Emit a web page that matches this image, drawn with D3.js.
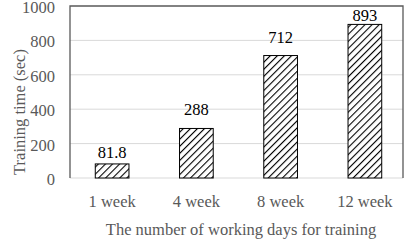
<!DOCTYPE html>
<html><head><meta charset="utf-8">
<script src="https://cdn.jsdelivr.net/npm/d3@7"></script>
<style>body{margin:0;background:#fff}svg{display:block;font-family:"Liberation Serif","Times New Roman",serif}</style>
</head><body>
<svg id="c" width="409" height="240"></svg>
<script>
const categories = ["1 week","4 week","8 week","12 week"];
const values = [81.8, 288, 712, 893];
const valueLabels = ["81.8","288","712","893"];
const yTicks = [0,200,400,600,800,1000];
const labelGap = [6, 13, 13, 3];

const svg = d3.select("#c");
const L = 70, R = 403, T = 6, B = 178;
const FS = 16.5;
const x = d3.scaleBand().domain(categories).range([70, 407]).paddingInner(0.6).paddingOuter(0.3);
const y = d3.scaleLinear().domain([0,1000]).range([B, T]);

const defs = svg.append("defs");
const pat = defs.append("pattern").attr("id","hatch").attr("patternUnits","userSpaceOnUse")
  .attr("width",5).attr("height",5).attr("patternTransform","rotate(45)");
pat.append("rect").attr("width",5).attr("height",5).attr("fill","#fff");
pat.append("line").attr("x1",0).attr("y1",0).attr("x2",0).attr("y2",5).attr("stroke","#000").attr("stroke-width",2.2);

// gridlines
svg.append("g").selectAll("line").data(yTicks.filter(d=>d>0 && d<1000)).join("line")
  .attr("x1",L).attr("x2",R).attr("y1",d=>y(d)).attr("y2",d=>y(d))
  .attr("stroke","#d9d9d9").attr("stroke-width",1);
// baseline
svg.append("line").attr("x1",L).attr("x2",R).attr("y1",y(0)).attr("y2",y(0)).attr("stroke","#d9d9d9");
// border (top, left, right)
svg.append("path").attr("d",`M${L},${B}V${T}H${R}V${B}`).attr("fill","none").attr("stroke","#595959").attr("stroke-width",1.3);

// bars
svg.append("g").selectAll("rect").data(values).join("rect")
  .attr("x",(d,i)=>x(categories[i])).attr("width",x.bandwidth())
  .attr("y",d=>y(d)).attr("height",d=>y(0)-y(d))
  .attr("fill","url(#hatch)").attr("stroke","#000").attr("stroke-width",1);

// value labels
svg.append("g").selectAll("text").data(values).join("text")
  .attr("x",(d,i)=>x(categories[i])+x.bandwidth()/2).attr("y",(d,i)=>y(d)-labelGap[i])
  .attr("text-anchor","middle").attr("font-size",FS).attr("fill","#000").text((d,i)=>valueLabels[i]);

// y axis labels
svg.append("g").selectAll("text").data(yTicks).join("text")
  .attr("x",55).attr("y",d=>y(d)+7).attr("text-anchor","end").attr("font-size",FS).attr("fill","#595959").text(d=>d);

// x axis labels
svg.append("g").selectAll("text").data(categories).join("text")
  .attr("x",d=>x(d)+x.bandwidth()/2).attr("y",207).attr("text-anchor","middle").attr("font-size",FS).attr("fill","#595959").text(d=>d);

svg.append("text").attr("x",241).attr("y",235).attr("text-anchor","middle").attr("font-size",FS).attr("fill","#595959")
  .text("The number of working days for training");
svg.append("text").attr("transform","translate(25,112) rotate(-90)").attr("text-anchor","middle").attr("font-size",FS).attr("fill","#595959")
  .text("Training time (sec)");
</script>
</body></html>
